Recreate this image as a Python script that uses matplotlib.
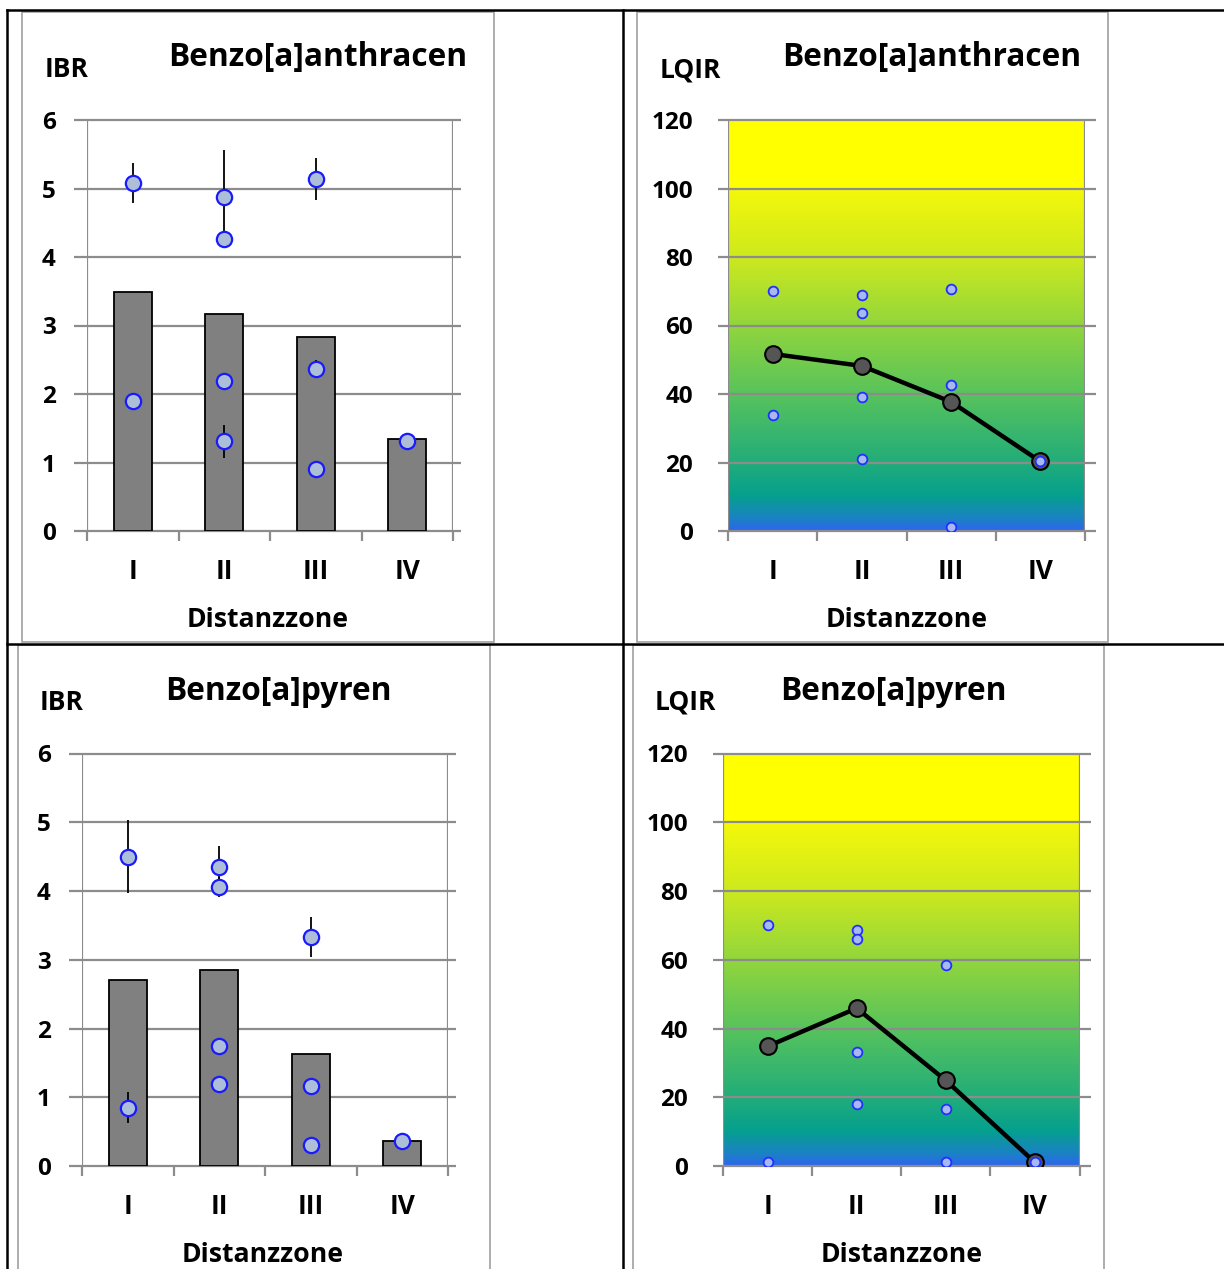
import numpy as np
import matplotlib
matplotlib.use('Agg')
import matplotlib.pyplot as plt
from matplotlib.colors import LinearSegmentedColormap
from matplotlib.patches import Rectangle

plt.rcParams['font.family'] = ['Open Sans', 'DejaVu Sans']
plt.rcParams['font.weight'] = 'bold'

W, H = 1224, 1269

# ---------------- data ----------------
categories = ['I', 'II', 'III', 'IV']
xlabel = 'Distanzzone'
titles = ['Benzo[a]anthracen', 'Benzo[a]pyren']
ibr_label = 'IBR'
lqir_label = 'LQIR'
ibr_ticks = [0, 1, 2, 3, 4, 5, 6]
lqir_ticks = [0, 20, 40, 60, 80, 100, 120]

# Benzo[a]anthracen
anth_ibr_bars = [3.49, 3.17, 2.83, 1.34]
anth_ibr_points = [[5.08, 1.90], [4.88, 4.27, 2.19, 1.31], [5.14, 2.37, 0.91], [1.32]]
anth_ibr_err = [[0.29, 0.0], [0.68, 0.0, 0.0, 0.24], [0.31, 0.13, 0.0], [0.0]]
anth_lqir_line = [51.7, 48.2, 37.7, 20.3]
anth_lqir_points = [[70.2, 33.8], [69.0, 63.7, 39.1, 21.0], [70.7, 42.7, 1.3], [20.3]]

# Benzo[a]pyren
pyr_ibr_bars = [2.71, 2.85, 1.63, 0.37]
pyr_ibr_points = [[4.50, 0.85], [4.35, 4.06, 1.75, 1.20], [3.33, 1.17, 0.30], [0.36]]
pyr_ibr_err = [[0.53, 0.22], [0.31, 0.14, 0.0, 0.0], [0.29, 0.0, 0.0], [0.0]]
pyr_lqir_line = [34.8, 45.9, 24.9, 1.05]
pyr_lqir_points = [[70.2, 1.3], [68.6, 66.0, 33.3, 18.1], [58.5, 16.5, 1.3], [1.3]]

# gradient stops for LQIR background (value, colour)
grad_stops = [(0, '#2d66ec'), (3, '#1c80c8'), (10, '#05a08e'), (20, '#22ad7a'),
              (40, '#58c35c'), (60, '#92d63c'), (80, '#cde91e'), (99.6, '#f4f80a'),
              (100, '#ffff00'), (120, '#ffff00')]

GRID = '#8c8c8c'
FRAME = '#a0a0a0'
TITLE_FS = 22.8
LAB_FS = 19
YT_FS = 17.5
XT_FS = 19
XL_FS = 19.2

fig = plt.figure(figsize=(W / 100, H / 100), dpi=100)
bg = fig.add_axes([0, 0, 1, 1])
bg.set_xlim(0, W)
bg.set_ylim(H, 0)
bg.axis('off')


def rect(x0, x1, ytop, ybot):
    return [x0 / W, 1 - ybot / H, (x1 - x0) / W, (ybot - ytop) / H]


def setup(ax, ymax, ticks, wpx, ext_l, ext_r, ypad):
    ax.set_xlim(-0.5, 3.5)
    ax.set_ylim(0, ymax)
    ax.patch.set_visible(False)
    for s in ax.spines.values():
        s.set_visible(False)
    upx = 4.0 / wpx
    ax.hlines(ticks, -0.5 - ext_l * upx, 3.5 + ext_r * upx, colors=GRID, lw=1.6,
              clip_on=False, zorder=2)
    ax.vlines([-0.5, 3.5], 0, ymax, colors=GRID, lw=1.6, zorder=2)
    ax.set_xticks([-0.5, 0.5, 1.5, 2.5, 3.5])
    ax.set_xticklabels([])
    ax.tick_params(axis='x', which='major', length=7.5, width=1.6, color=GRID, direction='out')
    ax.set_xticks(range(4), minor=True)
    ax.set_xticklabels(categories, minor=True, fontsize=XT_FS, fontweight='bold')
    ax.tick_params(axis='x', which='minor', length=0, pad=19.5)
    ax.set_yticks(ticks)
    ax.set_yticklabels([str(t) for t in ticks], fontsize=YT_FS, fontweight='bold')
    ax.tick_params(axis='y', length=0, pad=ypad)


def ibr_panel(rect_px, bars, points, errs):
    x0, x1, yt, yb = rect_px
    ax = fig.add_axes(rect(x0, x1, yt, yb))
    setup(ax, 6, ibr_ticks, x1 - x0, 13, 8, 22.5)
    ax.bar(range(4), bars, width=0.41, color='#808080', edgecolor='black', lw=1.3, zorder=3)
    for i, (pts, ers) in enumerate(zip(points, errs)):
        xs = [i] * len(pts)
        ax.errorbar(xs, pts, yerr=ers, fmt='none', ecolor='black', elinewidth=1.3,
                    capsize=0, zorder=4)
        ax.plot(xs, pts, 'o', ms=11, mfc='#adbfd8', mec='#1a1aff', mew=1.6,
                ls='none', zorder=5)
    return ax


cmap = LinearSegmentedColormap.from_list(
    'lqir', [(v / 120.0, c) for v, c in grad_stops])


def lqir_panel(rect_px, line, points):
    x0, x1, yt, yb = rect_px
    ax = fig.add_axes(rect(x0, x1, yt, yb))
    setup(ax, 120, lqir_ticks, x1 - x0, 10, 11, 25)
    grad = np.linspace(0, 120, 600).reshape(-1, 1)
    ax.imshow(grad, cmap=cmap, vmin=0, vmax=120, extent=[-0.5, 3.5, 0, 120],
              origin='lower', aspect='auto', zorder=0, interpolation='bilinear')
    ax.plot(range(4), line, '-', color='black', lw=3.2, zorder=4)
    ax.plot(range(4), line, 'o', ms=12, mfc='#555555', mec='black', mew=1.5, zorder=5)
    for i, pts in enumerate(points):
        ax.plot([i] * len(pts), pts, 'o', ms=7, mfc='#a8b8f0', mec='#2030ff', mew=1.3,
                ls='none', zorder=6)
    ax.set_xlim(-0.5, 3.5)
    ax.set_ylim(0, 120)
    return ax


# panel frames and table lines
for (fx0, fx1, fy0, fy1) in [(22, 494, 12, 642), (637, 1108, 12, 642),
                             (18, 490, 645, 1290), (633, 1104, 645, 1290)]:
    bg.add_patch(Rectangle((fx0, fy0), fx1 - fx0, fy1 - fy0, fill=False,
                           edgecolor=FRAME, lw=1.2))
bg.plot([7, W], [10, 10], color='black', lw=1.8)
bg.plot([7, W], [643.5, 643.5], color='black', lw=1.8)
bg.plot([7, 7], [10, H], color='black', lw=1.8)
bg.plot([623, 623], [10, H], color='black', lw=1.8)

ibr_panel((87, 453, 120, 531), anth_ibr_bars, anth_ibr_points, anth_ibr_err)
lqir_panel((728, 1085, 120, 531), anth_lqir_line, anth_lqir_points)
ibr_panel((82, 448, 753.5, 1166), pyr_ibr_bars, pyr_ibr_points, pyr_ibr_err)
lqir_panel((723, 1079.5, 753.5, 1166), pyr_lqir_line, pyr_lqir_points)

# texts
bg.text(317.5, 66, titles[0], ha='center', va='baseline', fontsize=TITLE_FS, fontweight='bold')
bg.text(932, 66, titles[0], ha='center', va='baseline', fontsize=TITLE_FS, fontweight='bold')
bg.text(278.5, 700, titles[1], ha='center', va='baseline', fontsize=TITLE_FS, fontweight='bold')
bg.text(893, 700, titles[1], ha='center', va='baseline', fontsize=TITLE_FS, fontweight='bold')
bg.text(45, 77, ibr_label, ha='left', va='baseline', fontsize=LAB_FS, fontweight='bold')
bg.text(660, 77, lqir_label, ha='left', va='baseline', fontsize=LAB_FS, fontweight='bold')
bg.text(40, 710, ibr_label, ha='left', va='baseline', fontsize=LAB_FS, fontweight='bold')
bg.text(655, 710, lqir_label, ha='left', va='baseline', fontsize=LAB_FS, fontweight='bold')
bg.text(268, 627, xlabel, ha='center', va='baseline', fontsize=XL_FS, fontweight='bold')
bg.text(907, 627, xlabel, ha='center', va='baseline', fontsize=XL_FS, fontweight='bold')
bg.text(263, 1262, xlabel, ha='center', va='baseline', fontsize=XL_FS, fontweight='bold')
bg.text(902, 1262, xlabel, ha='center', va='baseline', fontsize=XL_FS, fontweight='bold')

fig.savefig('out.png', dpi=100)
